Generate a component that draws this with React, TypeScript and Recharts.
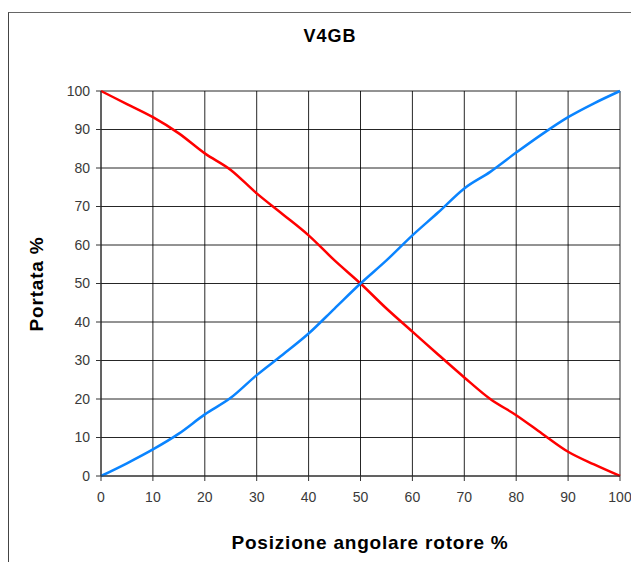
import { LineChart, Line, XAxis, YAxis, CartesianGrid } from 'recharts';

// rotor angular position (%)
const positions = [0, 5, 10, 15, 20, 25, 30, 35, 40, 45, 50, 55, 60, 65, 70, 75, 80, 85, 90, 95, 100];
// flow rate (%) for the two ways
const flowBlue = [0, 3.3, 6.9, 11, 16, 20.3, 26.2, 31.5, 37, 43.5, 50, 56, 62.5, 68.5, 74.7, 79, 84, 88.8, 93.2, 96.8, 100];
const flowRed = [100, 96.6, 93.2, 89, 83.8, 79.5, 73.4, 68, 62.5, 56, 50, 43.5, 37.5, 31.5, 25.6, 20, 15.8, 11, 6.3, 3, 0];
const ticks = [0, 10, 20, 30, 40, 50, 60, 70, 80, 90, 100];

const title = 'V4GB';
const xTitle = 'Posizione angolare rotore %';
const yTitle = 'Portata %';

const data = positions.map((p, i) => ({ pos: p, blue: flowBlue[i], red: flowRed[i] }));

const font = '"Liberation Sans", Arial, sans-serif';
const tickStyle = { fontSize: 14, fill: '#3a3a3a', fontFamily: font };
const heading = {
    position: 'absolute' as const,
    textAlign: 'center' as const,
    fontSize: 18,
    fontWeight: 900,
    color: '#000',
    whiteSpace: 'nowrap' as const,
};

export default function App() {
    return (
        <div style={{ position: 'relative', width: 631, height: 554, fontFamily: font }}>
            {/* frame (only top and left edges are visible in the crop) */}
            <div
                style={{
                    position: 'absolute',
                    left: 0,
                    top: 4,
                    width: 640,
                    height: 560,
                    borderTop: '1.5px solid #666',
                    borderLeft: '1.5px solid #444',
                }}
            />
            <div style={{ ...heading, left: 270, top: 18, width: 104, letterSpacing: 1 }}>{title}</div>
            <div style={{ ...heading, left: 162, top: 524, width: 400, fontSize: 19, letterSpacing: 0.8 }}>
                {xTitle}
            </div>
            <div
                style={{
                    ...heading,
                    left: 29 - 100,
                    top: 265,
                    width: 200,
                    fontSize: 19,
                    letterSpacing: 0.8,
                    transform: 'rotate(-90deg)',
                }}
            >
                {yTitle}
            </div>
            <div style={{ position: 'absolute', left: 0, top: 0 }}>
                <LineChart width={631} height={554} data={data} margin={{ top: 83, right: 19, bottom: 56, left: 0 }}>
                    <CartesianGrid stroke="#000" strokeWidth={1} strokeOpacity={0.85} />
                    <XAxis
                        dataKey="pos"
                        type="number"
                        domain={[0, 100]}
                        ticks={ticks}
                        height={30}
                        tick={tickStyle}
                        tickSize={5}
                        tickMargin={11}
                        stroke="#333"
                        interval={0}
                    />
                    <YAxis
                        type="number"
                        domain={[0, 100]}
                        ticks={ticks}
                        width={93}
                        tick={tickStyle}
                        tickSize={5}
                        tickMargin={6}
                        stroke="#333"
                        interval={0}
                    />
                    <Line
                        type="monotone"
                        dataKey="red"
                        stroke="#ff0000"
                        strokeWidth={2.5}
                        dot={false}
                        isAnimationActive={false}
                    />
                    <Line
                        type="monotone"
                        dataKey="blue"
                        stroke="#0a84ff"
                        strokeWidth={2.5}
                        dot={false}
                        isAnimationActive={false}
                    />
                </LineChart>
            </div>
        </div>
    );
}
